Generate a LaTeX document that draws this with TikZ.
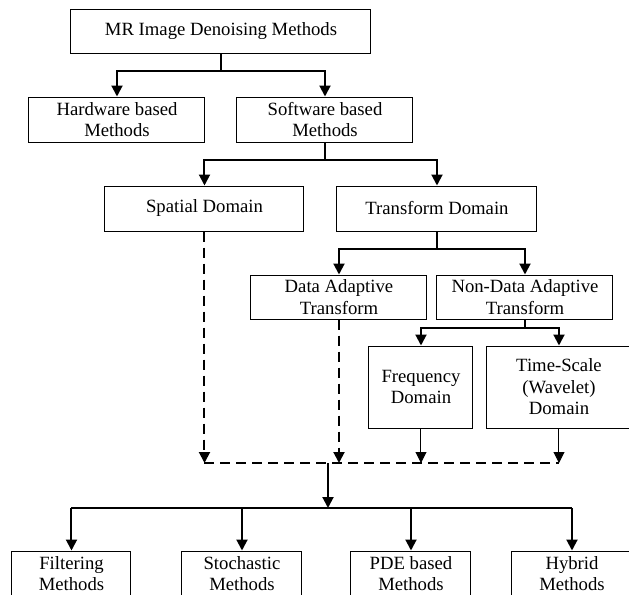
\documentclass[tikz,border=0pt]{standalone}
\usepackage{fontspec}
\setmainfont{Liberation Serif}
\usetikzlibrary{arrows.meta}

\begin{document}
\begin{tikzpicture}[x=0.5pt,y=-0.5pt,>={Triangle[width=5.5pt,length=5.5pt]},line width=1pt,
    box node/.style={draw,line width=0.5pt,inner sep=0pt,align=center,font=\fontsize{9.35pt}{10.8pt}\selectfont},
    dash line/.style={dash pattern=on 5pt off 3pt,line width=1pt}]
    \useasboundingbox (0,0) rectangle (629,595);
    \clip (0,0) rectangle (629,595);

    \node[box node] (mr) [minimum width=150pt,minimum height=22pt] at (221,31) {MR Image Denoising Methods};
    \node[box node] (hw) [minimum width=88pt,minimum height=22.5pt] at (117,119.5) {Hardware based\\Methods};
    \node[box node] (sw) [minimum width=88pt,minimum height=22.5pt] at (325,119.5) {Software based\\Methods};
    \node[box node] (spatial) [minimum width=99.5pt,minimum height=22.5pt] at (204.5,208.5) {Spatial Domain};
    \node[box node] (trans) [minimum width=100pt,minimum height=22.5pt] at (437,208.5) {Transform Domain};
    \node[box node] (dat) [minimum width=88pt,minimum height=22pt] at (339,297) {Data Adaptive\\Transform};
    \node[box node] (ndat) [minimum width=88pt,minimum height=22pt] at (525,297) {Non-Data Adaptive\\Transform};
    \node[box node] (freq) [minimum width=52pt,minimum height=41pt] at (421,387) {Frequency\\Domain};
    \node[box node] (tscale) [minimum width=72pt,minimum height=41pt] at (559,387) {Time-Scale\\(Wavelet)\\Domain};

    \node[box node] (filt) [minimum width=59.5pt,minimum height=22.5pt] at (71.5,573.5) {Filtering\\Methods};
    \node[box node] (stoch) [minimum width=60pt,minimum height=22.5pt] at (242,573.5) {Stochastic\\Methods};
    \node[box node] (pde) [minimum width=60pt,minimum height=22.5pt] at (411,573.5) {PDE based\\Methods};
    \node[box node] (hyb) [minimum width=60pt,minimum height=22.5pt] at (572,573.5) {Hybrid\\Methods};

    % tree part
    \draw (mr.south) -- ++(0,17) coordinate (b1);
    \draw[->] (b1) -| (hw.north);
    \draw[->] (b1) -| (sw.north);
    \draw (sw.south) -- ++(0,17) coordinate (b2);
    \draw[->] (b2) -| (spatial.north);
    \draw[->] (b2) -| (trans.north);
    \draw (trans.south) -- ++(0,17) coordinate (b3);
    \draw[->] (b3) -| (dat.north);
    \draw[->] (b3) -| (ndat.north);
    \draw (ndat.south) -- ++(0,8) coordinate (b4);
    \draw[->] (b4) -| (freq.north);
    \draw[->] (b4) -| (tscale.north);

    % merging to the classes
    \coordinate (m) at (328,463);
    \coordinate (bus) at (328,508);
    \draw[dash line,->] (spatial) -- (spatial |- m);
    \draw[dash line,->] (dat) -- (dat |- m);
    \draw[dash line] (spatial |- m) -- (tscale |- m);
    \draw[line width=0.5pt,->] (freq) -- (freq |- m);
    \draw[line width=0.5pt,->] (tscale) -- (tscale |- m);
    \draw[->] (m) -- (bus);
    \draw (filt |- bus) -- (hyb |- bus);
    \foreach \n in {filt,stoch,pde,hyb}
        \draw[->] (\n |- bus) -- (\n);
\end{tikzpicture}
\end{document}
